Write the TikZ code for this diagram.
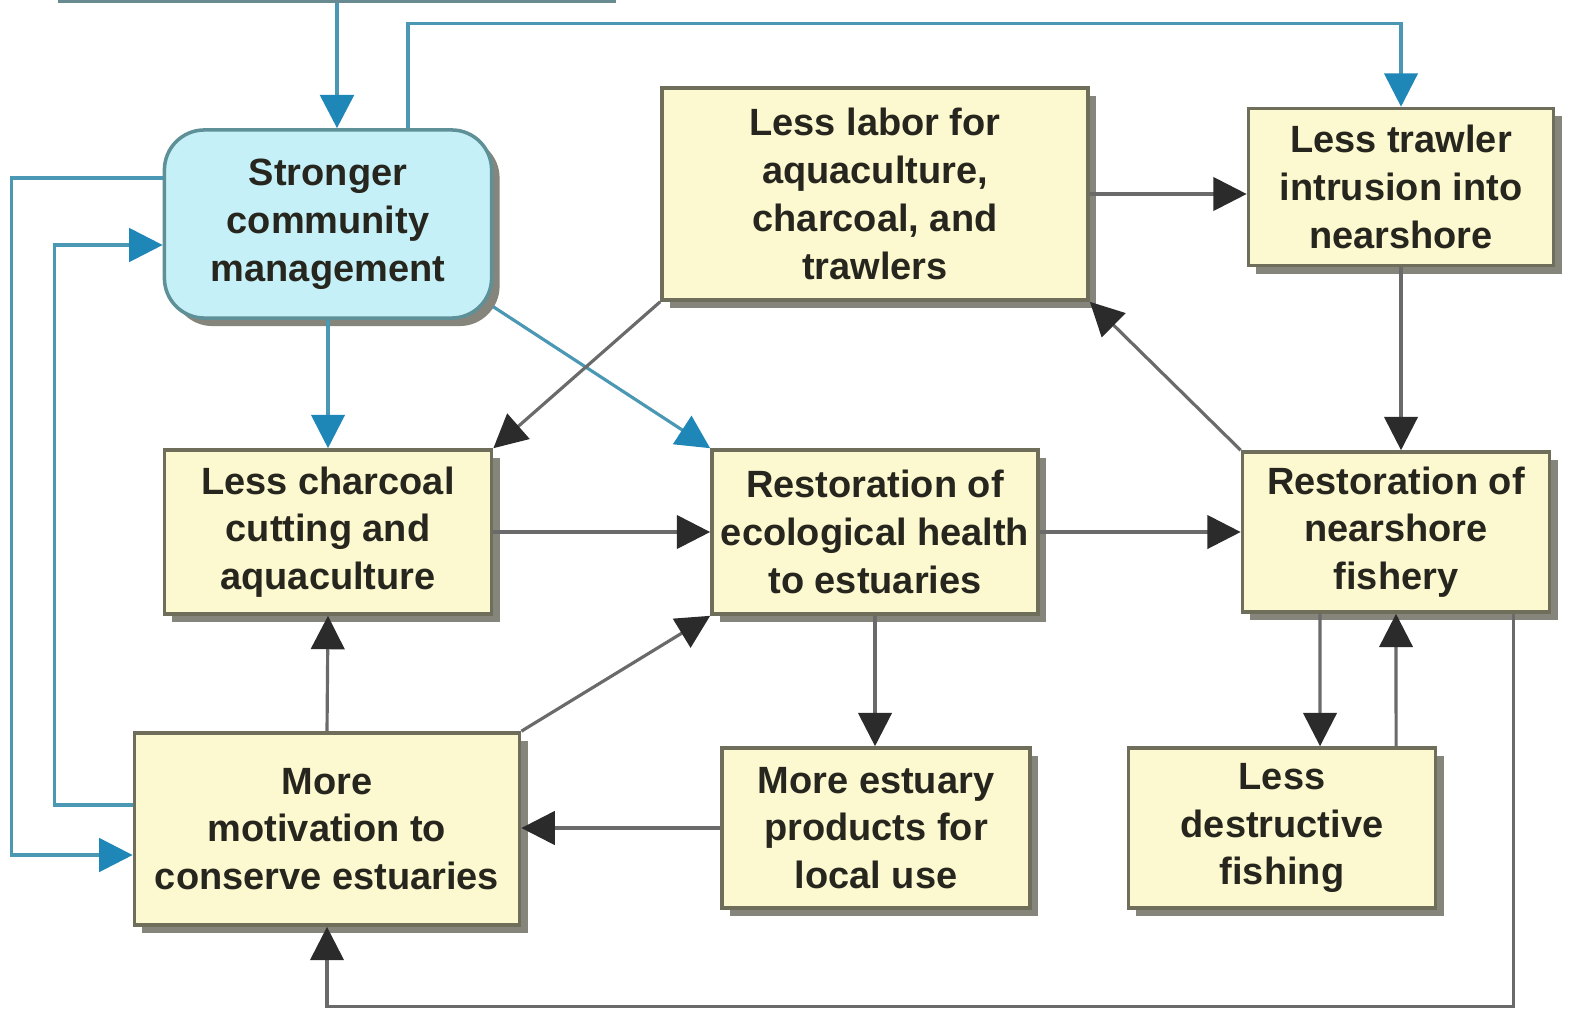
\documentclass[tikz,border=0pt]{standalone}
\usepackage{fontspec}
\setmainfont{Liberation Sans}
\usetikzlibrary{arrows.meta,shadows}
\definecolor{boxfill}{HTML}{FCF8CF}
\definecolor{boxline}{HTML}{6E6E5A}
\definecolor{shd}{HTML}{85857C}
\definecolor{cyanfill}{HTML}{C6F0F8}
\definecolor{cyanline}{HTML}{5E9098}
\definecolor{txt}{HTML}{26261E}
\definecolor{lndk}{HTML}{6A6A6A}
\definecolor{arrdk}{HTML}{2B2B2B}
\definecolor{lnbl}{HTML}{4A98B4}
\definecolor{arrbl}{HTML}{1F86B8}
\begin{document}
\begin{tikzpicture}[x=0.01cm,y=-0.01cm,
 box/.style={draw=boxline,line width=1pt,fill=boxfill,align=center,inner sep=0pt,text=txt,
  font=\bfseries\fontsize{10.8}{13.6}\selectfont,
  drop shadow={shadow xshift=0.08cm,shadow yshift=-0.08cm,fill=shd,opacity=1}},
 cbox/.style={box,fill=cyanfill,draw=cyanline,rounded corners=0.4cm},
 dk/.style={draw=lndk,line width=0.9pt,-{Triangle[length=9.5pt,width=9.5pt,color=arrdk]}},
 bl/.style={draw=lnbl,line width=0.9pt,-{Triangle[length=9.5pt,width=9.5pt,color=arrbl]}}]
\useasboundingbox[fill=white] (0,0) rectangle (1574,1018);
\begin{scope}
\clip (0,0) rectangle (1574,1018);
\node[draw=cyanline!70!gray,line width=1pt,fill=cyanfill,minimum width=5.55cm,minimum height=1.26cm] (top) at (337,-62) {};
\end{scope}
\node[cbox,minimum width=3.27cm,minimum height=1.88cm] (strong) at (328,224) {Stronger\\community\\management};
\node[box,minimum width=4.26cm,minimum height=2.12cm] (labor) at (875,194) {Less labor for\\aquaculture,\\charcoal, and\\trawlers};
\node[box,minimum width=3.05cm,minimum height=1.57cm] (trawl) at (1401,187) {Less trawler\\intrusion into\\nearshore};
\node[box,minimum width=3.27cm,minimum height=1.64cm] (charc) at (328,532) {Less charcoal\\cutting and\\aquaculture};
\node[box,minimum width=3.26cm,minimum height=1.64cm] (eco) at (875,532) {Restoration of\\ecological health\\to estuaries};
\node[box,minimum width=3.07cm,minimum height=1.6cm] (near) at (1396,532) {Restoration of\\nearshore\\fishery};
\node[box,minimum width=3.85cm,minimum height=1.92cm] (motiv) at (327,829) {More\\motivation to\\conserve estuaries};
\node[box,minimum width=3.08cm,minimum height=1.6cm] (prod) at (876,828) {More estuary\\products for\\local use};
\node[box,minimum width=3.07cm,minimum height=1.6cm] (dest) at (1282,828) {Less\\destructive\\fishing};

\draw[bl,line width=1.4pt] (top.south) -- (top.south |- strong.north);
\draw[bl] ([xshift=0.8cm]strong.north) -- ++(0,-105) -| (trawl.north);
\draw[bl] ([yshift=0.46cm]strong.west) -- ++(-151,0) |- ([yshift=-0.26cm]motiv.west);
\draw[bl] ([yshift=0.24cm]motiv.west) -- ++(-78,0) |- ([yshift=-0.21cm]strong.west);
\draw[bl] (strong.south) -- (charc.north);
\draw[bl] ([yshift=0.13cm]strong.south east) -- (eco.north west);

\draw[dk] (labor.south west) -- (charc.north east);
\draw[dk] (labor.east) -- (labor.east -| trawl.west);
\draw[dk] (trawl.south) -- (trawl.south |- near.north);
\draw[dk] (near.north west) -- (labor.south east);
\draw[dk] (charc.east) -- (eco.west);
\draw[dk] (eco.east) -- (near.west);
\draw[dk] (eco.south) -- (eco.south |- prod.north);
\draw[dk] (prod.west) -- (prod.west -| motiv.east);
\draw[dk] (motiv.north) -- (charc.south);
\draw[dk] (motiv.north east) -- (eco.south west);
\draw[dk] ([xshift=-0.76cm]near.south) -- ([xshift=0.38cm]dest.north);
\draw[dk] ([xshift=1.14cm]dest.north) -- (near.south);
\draw[dk] ([xshift=1.17cm]near.south) -- ++(0,393) -| (motiv.south);
\end{tikzpicture}
\end{document}
